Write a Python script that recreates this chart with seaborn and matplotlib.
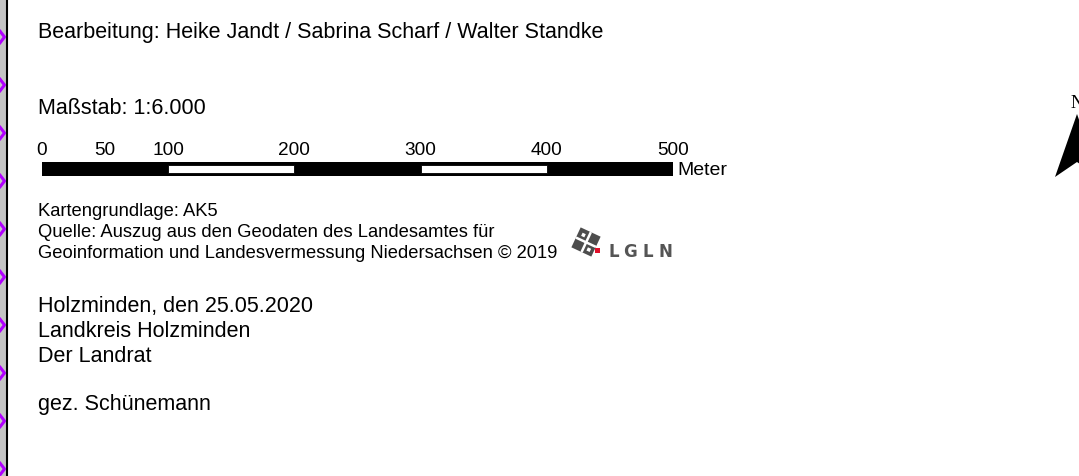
import matplotlib
matplotlib.use("Agg")
import matplotlib.pyplot as plt
import seaborn as sns
import numpy as np
from matplotlib.patches import Polygon, Rectangle
from matplotlib.transforms import Affine2D

sns.set_theme(style="white")
plt.rcParams["font.family"] = ["Liberation Sans", "DejaVu Sans"]
plt.rcParams["text.color"] = "black"

# texts of the map footer
credits = "Bearbeitung: Heike Jandt / Sabrina Scharf / Walter Standke"
scale_title = "Maßstab:"
scale_ratio = "1:6.000"
source_lines = ["Kartengrundlage: AK5",
                "Quelle: Auszug aus den Geodaten des Landesamtes für",
                "Geoinformation und Landesvermessung Niedersachsen © 2019"]
signature_lines = ["Holzminden, den 25.05.2020", "Landkreis Holzminden", "Der Landrat"]
signer = "gez. Schünemann"

# scale bar (metres)
scale_ticks = [0, 50, 100, 200, 300, 400, 500]
scale_starts = [0, 100, 200, 300, 400]
scale_widths = [100, 100, 100, 100, 100]
scale_fill = ["black", "white", "black", "white", "black"]
scale_unit = "Meter"
logo_letters = ["L", "G", "L", "N"]

W, H = 1079, 477
fig = plt.figure(figsize=(W / 100, H / 100), dpi=100)
ax = fig.add_axes([0, 0, 1, 1])
ax.set_xlim(0, W)
ax.set_ylim(H, 0)
ax.axis("off")

# left border strip of the map frame
ax.add_patch(Rectangle((0, 0), 5.5, H, color="#c4c4c4", lw=0))
ax.plot([6.5, 6.5], [0, H], color="black", lw=1.5, solid_capstyle="butt")
for yc in np.arange(-10, H + 20, 48):
    ax.plot([-0.5, 4.5, -0.5], [yc - 6.5, yc, yc + 6.5], color="#b000ff", lw=2.2)

big = 15.5
small = 13.2
ax.text(38, 38, credits, fontsize=big, va="baseline")
ax.text(38, 114, scale_title + " " + scale_ratio, fontsize=big, va="baseline")

for i, line in enumerate(source_lines):
    ax.text(38, 216 + 21 * i, line, fontsize=small, va="baseline")
for i, line in enumerate(signature_lines):
    ax.text(38, 312 + 25 * i, line, fontsize=big, va="baseline")
ax.text(38, 410, signer, fontsize=big, va="baseline")

# scale bar in its own axes, 0..500 m
sx = fig.add_axes([42 / W, 1 - 177 / H, 631 / W, 14 / H])
sx.set_facecolor("none")
sx.barh(0.5, sum(scale_widths), left=0, height=1, color="black", lw=0)
for left, width, fill in zip(scale_starts, scale_widths, scale_fill):
    if fill == "white":
        sx.barh(0.5, width, left=left, height=0.58, color="white",
                edgecolor="black", lw=0.6)
sx.set_xlim(0, 500)
sx.set_ylim(0, 1)
sx.set_xticks(scale_ticks)
sx.set_xticklabels([str(t) for t in scale_ticks])
sx.set_yticks([])
sx.xaxis.tick_top()
sx.tick_params(axis="x", length=0, pad=3, labelsize=13.7, colors="black")
sns.despine(ax=sx, left=True, bottom=True, top=True, right=True)
ax.text(677, 175, scale_unit, fontsize=14, va="baseline")

# LGLN logo
tr = Affine2D().rotate_deg_around(586, 243, 25) + ax.transData
ax.add_patch(Rectangle((575, 232), 22, 22, color="#4d4d4d", lw=0, transform=tr))
ax.add_patch(Rectangle((585, 232), 2.5, 22, color="white", lw=0, transform=tr))
ax.add_patch(Rectangle((575, 242), 22, 2.5, color="white", lw=0, transform=tr))
ax.add_patch(Rectangle((579, 236), 3.5, 3.5, color="white", lw=0, transform=tr))
ax.add_patch(Rectangle((590, 247), 3.5, 3.5, color="white", lw=0, transform=tr))
ax.add_patch(Rectangle((595, 249), 5, 5, color="#e0102a", lw=0))
for letter, lx in zip(logo_letters, [608, 623, 643, 659]):
    ax.text(lx, 257, letter, fontsize=12, fontweight="bold", color="#555555",
            va="baseline", family=["DejaVu Sans"])

# north arrow (cut at the right edge)
ax.add_patch(Polygon([(1077, 115), (1055, 178), (1077, 163), (1099, 178)],
                     closed=True, color="black", lw=0))
ax.text(1077, 108, "N", fontsize=13, ha="center", va="baseline",
        family=["Liberation Serif", "DejaVu Serif"])

fig.savefig("out.png", dpi=100, facecolor="white")
